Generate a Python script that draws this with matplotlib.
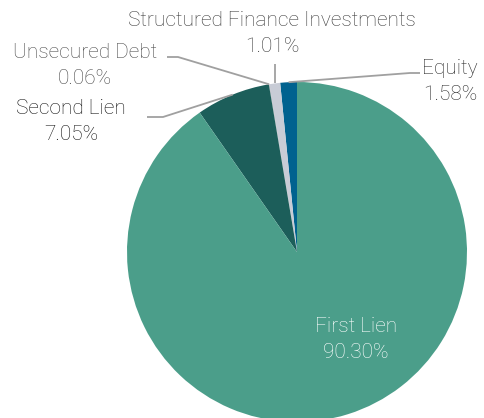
import numpy as np
import matplotlib
matplotlib.use("Agg")
import matplotlib.pyplot as plt

# pie data (counterclockwise from the top)
labels = ["Equity", "Structured Finance Investments", "Unsecured Debt", "Second Lien", "First Lien"]
values = [1.58, 1.01, 0.06, 7.05, 90.30]
colors = ["#00628f", "#c8ccd6", "#b0b4bc", "#1c5e5a", "#4b9e8a"]

W, H = 485, 418
fig = plt.figure(figsize=(W / 100, H / 100), dpi=100)
ax = fig.add_axes([0, 0, 1, 1])

cx, cy, r = 297, H - 252, 170
wedges, _ = ax.pie(values, colors=colors, startangle=90, counterclock=True,
                   center=(cx, cy), radius=r, frame=True,
                   wedgeprops=dict(linewidth=0))
ax.set_xlim(0, W)
ax.set_ylim(0, H)
ax.set_aspect("equal")
ax.axis("off")

font = dict(family=["Roboto", "DejaVu Sans"], fontweight="light", fontsize=15)
line_kw = dict(color="#a0a0a0", lw=1.3, solid_capstyle="butt")


def edge_point(i):
    w = wedges[i]
    a = np.deg2rad((w.theta1 + w.theta2) / 2)
    return cx + r * np.cos(a), cy + r * np.sin(a)


def pct(v):
    return f"{v:.2f}%"


# Equity
x0, y0 = edge_point(0)
ax.plot([x0, 410, 420], [y0, H - 73, H - 73], **line_kw)
ax.text(450, H - 69, labels[0], ha="center", va="center", color="#2a2a2a", **font)
ax.text(450, H - 95, pct(values[0]), ha="center", va="center", color="#2a2a2a", **font)

# Structured Finance
x0, y0 = edge_point(1)
ax.plot([x0, x0], [y0, H - 64], **line_kw)
ax.text(272, H - 20, labels[1], ha="center", va="center", color="#3a3a3a", **font)
ax.text(272, H - 47, pct(values[1]), ha="center", va="center", color="#3a3a3a", **font)

# Unsecured Debt
x0, y0 = edge_point(2)
ax.plot([x0, 178, 167], [y0, H - 57, H - 57], **line_kw)
ax.text(85, H - 52, labels[2], ha="center", va="center", color="#4a4a4a", **font)
ax.text(85, H - 78, pct(values[2]), ha="center", va="center", color="#4a4a4a", **font)

# Second Lien
x0, y0 = edge_point(3)
ax.plot([x0, 163, 147], [y0, H - 117, H - 117], **line_kw)
ax.text(71, H - 108, labels[3], ha="center", va="center", color="#111111", **font)
ax.text(71, H - 135, pct(values[3]), ha="center", va="center", color="#111111", **font)

# First Lien (inside)
ax.text(356, H - 327, labels[4], ha="center", va="center", color="white", **font)
ax.text(356, H - 353, pct(values[4]), ha="center", va="center", color="white", **font)

fig.savefig("out.png", dpi=100)
